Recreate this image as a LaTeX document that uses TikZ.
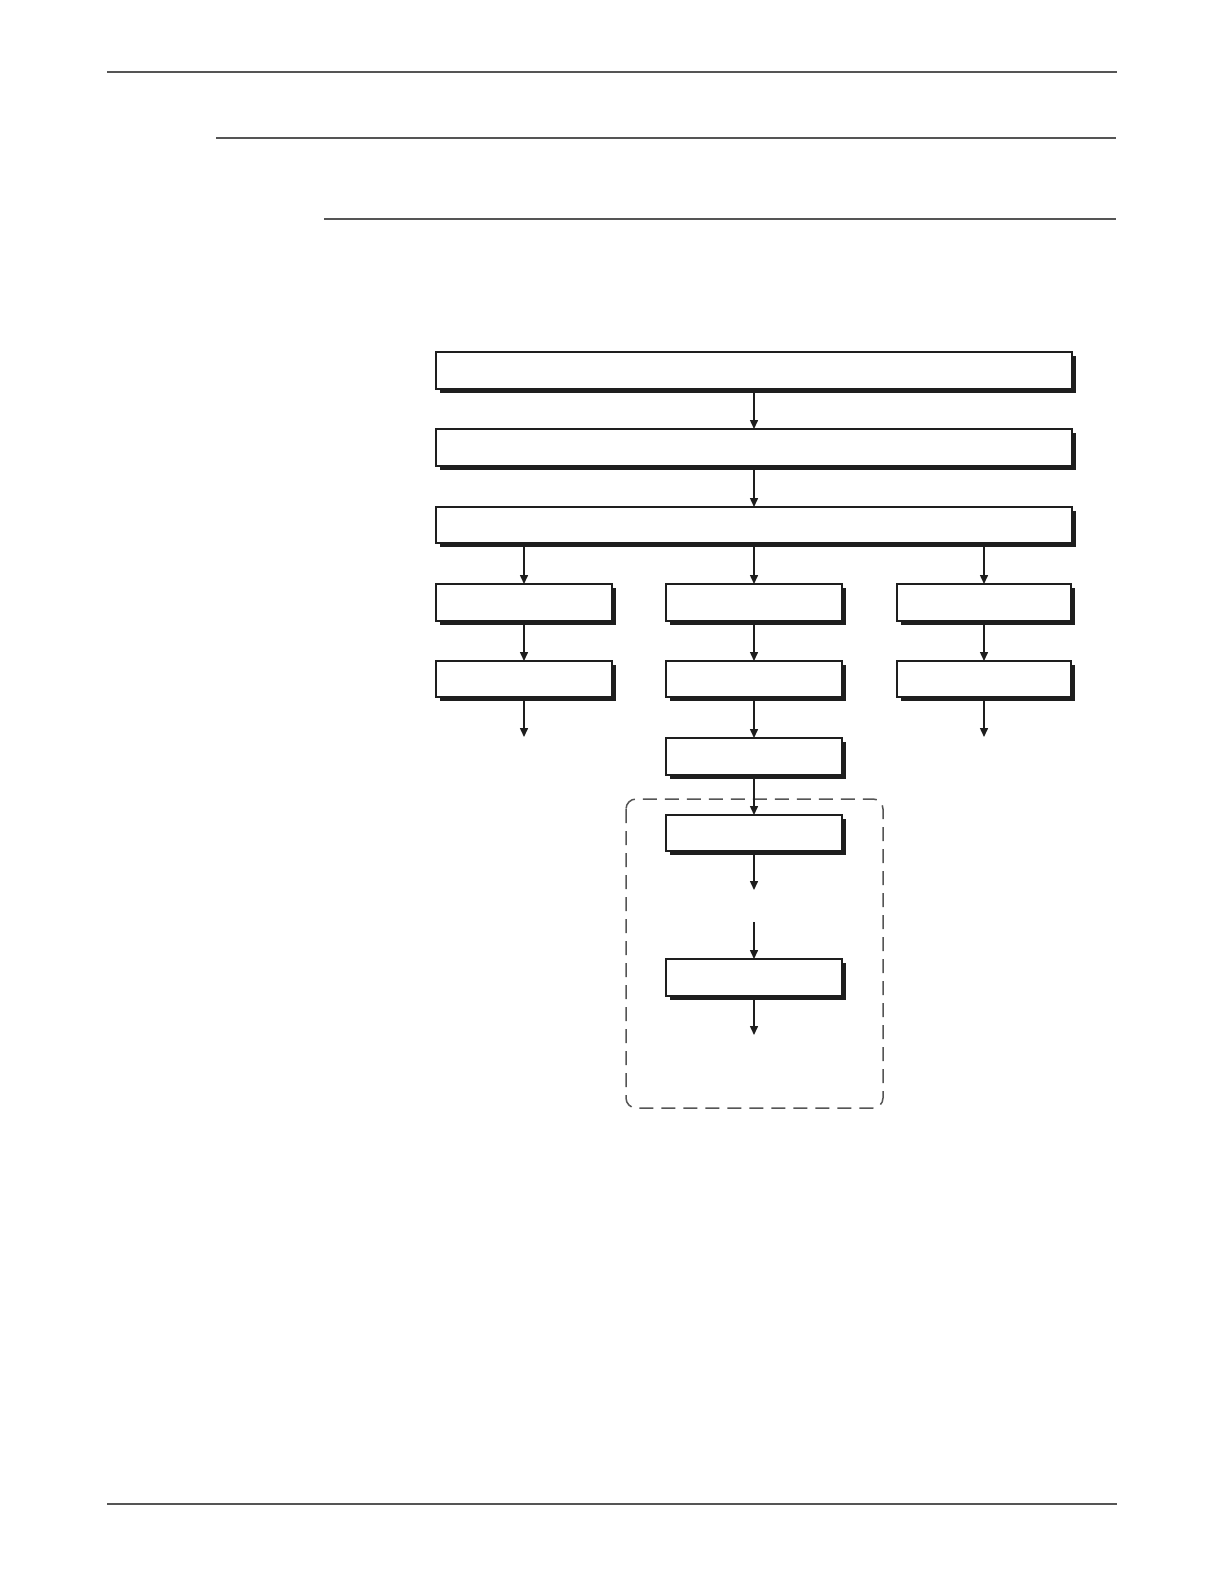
\documentclass[tikz,border=0pt]{standalone}
\usetikzlibrary{arrows.meta}
\definecolor{rulegray}{HTML}{555555}
\definecolor{ink}{HTML}{1E1E1E}
\tikzset{
  stepbox/.style={draw=ink, line width=1.6pt, fill=white, rectangle, inner sep=0pt, outer sep=0pt, anchor=north west},
  flow/.style={draw=ink, line width=1.5pt, -{Triangle[length=9pt,width=8pt]}},
  rulethick/.style={draw=rulegray, line width=2.2pt},
  rulethin/.style={draw=rulegray, line width=1.2pt},
  group/.style={draw=rulegray, line width=1.5pt, dash pattern=on 14pt off 8pt, rounded corners=10pt}
}
\newcommand{\myshbox}[5]{% name, x1, y1, x2, y2
  \fill[ink] (#2+4,#3+4) rectangle (#4+4,#5+4);
  \node[stepbox, minimum width=#4-#2, minimum height=#5-#3] (#1) at (#2,#3) {};
}
\begin{document}
\begin{tikzpicture}[x=1pt,y=-1pt]
\useasboundingbox (0,0) rectangle (1224,1584);
\fill[white] (0,0) rectangle (1224,1584);
% header / footer rules
\draw[rulethick] (107,72) coordinate (r1a) -- (1117,72) coordinate (r1b);
\draw[rulethick] (216,138) coordinate (r2a) -- (1116,138) coordinate (r2b);
\draw[rulethin] (324,219) coordinate (r3a) -- (1116,219) coordinate (r3b);
\draw[rulethick] (107,1504) coordinate (r4a) -- (1117,1504) coordinate (r4b);
% dashed group
\draw[group] (626,799) rectangle (883,1108);
% boxes
\myshbox{w1}{436}{352}{1072}{389}
\myshbox{w2}{436}{429}{1072}{466}
\myshbox{w3}{436}{507}{1072}{543}
\myshbox{l1}{436}{584}{612}{621}
\myshbox{m1}{666}{584}{842}{621}
\myshbox{r1}{897}{584}{1071}{621}
\myshbox{l2}{436}{661}{612}{697}
\myshbox{m2}{666}{661}{842}{697}
\myshbox{r2}{897}{661}{1071}{697}
\myshbox{m3}{666}{738}{842}{775}
\myshbox{m4}{666}{815}{842}{851}
\myshbox{m5}{666}{959}{842}{996}
% free ends
\coordinate (lend) at (524,737);
\coordinate (rend) at (984,737);
\coordinate (m4end) at (754,890);
\coordinate (m5in) at (754,922);
\coordinate (m5end) at (754,1035);
% connectors
\draw[flow] (w1.south) -- (w2.north);
\draw[flow] (w2.south) -- (w3.north);
\draw[flow] (l1.north |- w3.south) -- (l1.north);
\draw[flow] (m1.north |- w3.south) -- (m1.north);
\draw[flow] (r1.north |- w3.south) -- (r1.north);
\draw[flow] (l1.south) -- (l2.north);
\draw[flow] (m1.south) -- (m2.north);
\draw[flow] (r1.south) -- (r2.north);
\draw[flow] (l2.south) -- (lend);
\draw[flow] (r2.south) -- (rend);
\draw[flow] (m2.south) -- (m3.north);
\draw[flow] (m3.south) -- (m4.north);
\draw[flow] (m4.south) -- (m4end);
\draw[flow] (m5in) -- (m5.north);
\draw[flow] (m5.south) -- (m5end);
\end{tikzpicture}
\end{document}
